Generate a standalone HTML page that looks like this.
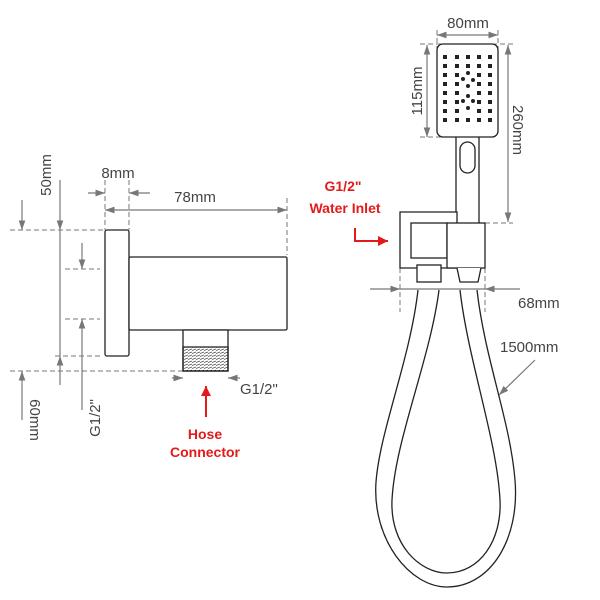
<!DOCTYPE html>
<html><head><style>body{margin:0;background:#fff}svg{display:block}</style></head><body>
<svg width="600" height="600" viewBox="0 0 600 600" xmlns="http://www.w3.org/2000/svg" font-family="Liberation Sans, sans-serif">
<defs>
<marker id="a" viewBox="0 0 10 10" refX="10" refY="5" markerWidth="8" markerHeight="8" orient="auto-start-reverse"><path d="M0,1.5 L10,5 L0,8.5z" fill="#777"/></marker>
<marker id="r" viewBox="0 0 10 10" refX="10" refY="5" markerWidth="5" markerHeight="5" orient="auto"><path d="M0,0 L10,5 L0,10z" fill="#e21a1a"/></marker>
<pattern id="h" width="4" height="3" patternUnits="userSpaceOnUse"><path d="M0,2.5 L4,1" stroke="#444" stroke-width="0.8"/></pattern>
</defs>
<g stroke="#777" stroke-width="1" fill="none" stroke-dasharray="5,3">
<path d="M10,230H105M10,371H183M65,269H100M65,319H100M55,356H100M105,180V230M129,180V230M287,198V255"/>
</g>
<g stroke="#777" stroke-width="1.2" fill="none">
<path d="M22,200V230" marker-end="url(#a)"/><path d="M22,420V371" marker-end="url(#a)"/>
<path d="M60,180V230" marker-end="url(#a)"/><path d="M60,385V356" marker-end="url(#a)"/><path d="M60,230V356"/>
<path d="M82,243V269" marker-end="url(#a)"/><path d="M82,410V319" marker-end="url(#a)"/>
<path d="M88,193H105" marker-end="url(#a)"/><path d="M150,193H129" marker-end="url(#a)"/>
<path d="M105,210H287" marker-start="url(#a)" marker-end="url(#a)"/>
<path d="M172,378H183" marker-end="url(#a)"/><path d="M240,378H228" marker-end="url(#a)"/>
</g>
<g stroke="#222" stroke-width="1.3" fill="#fff">
<rect x="105" y="230" width="24" height="126" rx="2"/>
<rect x="129" y="257" width="158" height="73" rx="1.5"/>
<rect x="183" y="330" width="45" height="41"/>
<rect x="183" y="347" width="45" height="24" fill="url(#h)"/>
</g>
<path d="M206,417V386" stroke="#e21a1a" stroke-width="2" marker-end="url(#r)"/>
<g fill="#444" font-size="15">
<text x="118" y="178" text-anchor="middle">8mm</text>
<text x="195" y="202" text-anchor="middle">78mm</text>
<text x="240" y="394">G1/2"</text>
<text transform="translate(51,175) rotate(-90)" text-anchor="middle">50mm</text>
<text transform="translate(100,418) rotate(-90)" text-anchor="middle">G1/2"</text>
<text transform="translate(30,420) rotate(90)" text-anchor="middle">60mm</text>
</g>
<g fill="#e21a1a" font-size="14" font-weight="bold" text-anchor="middle">
<text x="205" y="439">Hose</text><text x="205" y="457">Connector</text>
<text x="343" y="191">G1/2"</text><text x="345" y="213">Water Inlet</text>
</g>
<path d="M355,228V241H388" stroke="#e21a1a" stroke-width="2" fill="none" marker-end="url(#r)"/>
<g stroke="#777" stroke-width="1" fill="none" stroke-dasharray="5,3">
<path d="M437,30V48M498,30V48M420,44H513M420,137H440M485,223H513M400,268V312M485,268V312"/>
</g>
<g stroke="#777" stroke-width="1.2" fill="none">
<path d="M437,35H498" marker-start="url(#a)" marker-end="url(#a)"/>
<path d="M427,45V137" marker-start="url(#a)" marker-end="url(#a)"/>
<path d="M508,45V222" marker-start="url(#a)" marker-end="url(#a)"/>
<path d="M370,289H400" marker-end="url(#a)"/><path d="M520,289H485" marker-end="url(#a)"/>
<path d="M400,289H485"/>
<path d="M535,360L499,395" marker-end="url(#a)"/>
</g>
<g stroke="#222" stroke-width="1.3" fill="#fff">
<path d="M418,290C410,360 380,430 376,482C372,540 410,587 447,587C490,587 520,540 515,480C510,420 485,360 477,290" fill="none"/>
<path d="M439,290C430,360 395,440 392,500C390,545 420,573 447,573C480,573 502,540 500,500C497,440 468,360 460,290" fill="none"/>
<rect x="456" y="130" width="23" height="95"/>
<rect x="460" y="142" width="15" height="31" rx="7.5"/>
<rect x="437" y="44" width="61" height="93" rx="6"/>
<path d="M400,212H457V268H400z"/>
<rect x="411" y="223" width="36" height="35"/>
<rect x="447" y="223" width="38" height="45"/>
<rect x="417" y="265" width="24" height="17"/>
<path d="M457,268L460,282H478L481,268"/>
</g>
<g fill="#222">
<g id="row"><rect x="443" y="55" width="4" height="4"/><rect x="455" y="55" width="4" height="4"/><rect x="466" y="55" width="4" height="4"/><rect x="477" y="55" width="4" height="4"/><rect x="488" y="55" width="4" height="4"/></g>
<use href="#row" y="9"/><use href="#row" y="63"/>
<g id="side"><rect x="443" y="73" width="4" height="4"/><rect x="455" y="73" width="4" height="4"/><rect x="477" y="73" width="4" height="4"/><rect x="488" y="73" width="4" height="4"/></g>
<use href="#side" y="9"/><use href="#side" y="18"/><use href="#side" y="27"/><use href="#side" y="36"/>
<circle cx="468" cy="73" r="2"/><circle cx="463" cy="79" r="2"/><circle cx="473" cy="80" r="2"/><circle cx="468" cy="86" r="2"/><circle cx="468" cy="96" r="2"/><circle cx="463" cy="101" r="2"/><circle cx="473" cy="101" r="2"/><circle cx="468" cy="108" r="2"/>
</g>
<g fill="#444" font-size="15">
<text x="468" y="28" text-anchor="middle">80mm</text>
<text transform="translate(422,91) rotate(-90)" text-anchor="middle">115mm</text>
<text transform="translate(513,130) rotate(90)" text-anchor="middle">260mm</text>
<text x="518" y="308">68mm</text>
<text x="500" y="352">1500mm</text>
</g>
</svg>
</body></html>
